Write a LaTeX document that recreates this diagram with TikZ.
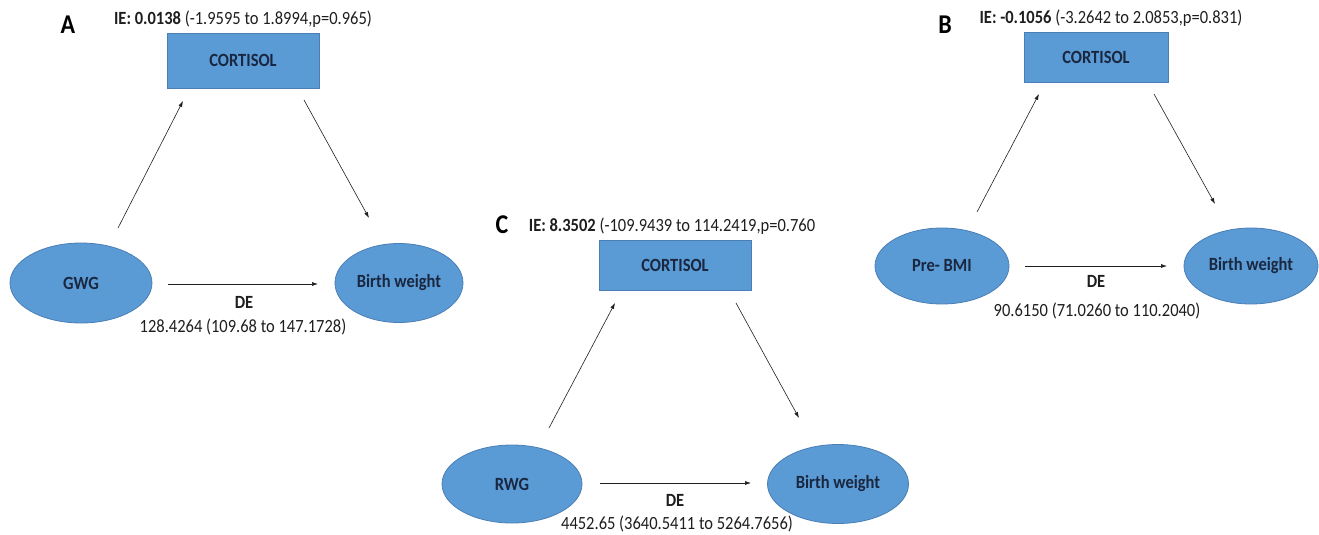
\documentclass[tikz,border=0pt]{standalone}
\usepackage{fontspec}
\setmainfont{Carlito}
\usetikzlibrary{shapes.geometric,arrows.meta}
\definecolor{boxblue}{HTML}{5B9BD5}
\definecolor{edgeblue}{HTML}{4A7EB5}
\definecolor{txt}{HTML}{1E1E1E}
\definecolor{shtxt}{HTML}{1A2740}
\newcommand\tl[1]{\scalebox{1}[1.13]{#1}}
\tikzset{
 oval/.style={ellipse, fill=boxblue, draw=edgeblue, line width=0.8pt, inner sep=0pt, font=\fontsize{16.5}{19}\selectfont\bfseries, text=shtxt},
 medbox/.style={rectangle, fill=boxblue, draw=edgeblue, line width=0.8pt, inner sep=0pt, font=\fontsize{16.5}{19}\selectfont\bfseries, text=shtxt},
 lbl/.style={font=\fontsize{16.5}{19}\selectfont, text=txt, inner sep=0pt},
 blbl/.style={lbl, font=\fontsize{16.5}{19}\selectfont\bfseries},
 panel/.style={font=\fontsize{24}{26}\selectfont\bfseries, text=black, inner sep=0pt},
 arr/.style={-{Latex[length=6pt,width=4pt]}, line width=0.6pt, draw=txt},
}
\begin{document}
\begin{tikzpicture}[x=1pt,y=-1pt]
\useasboundingbox (0,0) rectangle (1319,535);
% ---------- Panel A ----------
\node[panel] (pA) at (68,25) {\tl{A}};
\node[lbl] (ieA) at (243,19) {\tl{\textbf{IE: 0.0138} (-1.9595 to 1.8994,p=0.965)}};
\node[medbox, minimum width=152pt, minimum height=55pt] (cA) at (243,60.5) {\tl{CORTISOL}};
\node[oval, minimum width=142pt, minimum height=80pt] (xA) at (81,283) {\tl{GWG}};
\node[oval, minimum width=128pt, minimum height=79pt] (yA) at (399,283) {\tl{Birth weight}};
\coordinate (a1s) at (118,228); \coordinate (a1e) at (183,101);
\coordinate (a2s) at (304,100); \coordinate (a2e) at (369,218);
\coordinate (a3s) at (168,284); \coordinate (a3e) at (318,284);
\draw[arr] (a1s) -- (a1e);
\draw[arr] (a2s) -- (a2e);
\draw[arr] (a3s) -- (a3e);
\node[blbl] (deA) at (244,302) {\tl{DE}};
\node[lbl] (vA) at (243,327) {\tl{128.4264 (109.68 to 147.1728)}};
% ---------- Panel B ----------
\node[panel] (pB) at (945,25) {\tl{B}};
\node[lbl] (ieB) at (1111,18) {\tl{\textbf{IE: -0.1056} (-3.2642 to 2.0853,p=0.831)}};
\node[medbox, minimum width=144pt, minimum height=50pt] (cB) at (1096,57) {\tl{CORTISOL}};
\node[oval, minimum width=134pt, minimum height=76pt] (xB) at (942,266) {\tl{Pre- BMI}};
\node[oval, minimum width=134pt, minimum height=76pt] (yB) at (1251,266) {\tl{Birth weight}};
\coordinate (b1s) at (977,212); \coordinate (b1e) at (1039,94);
\coordinate (b2s) at (1154,94); \coordinate (b2e) at (1215,204);
\coordinate (b3s) at (1025,266); \coordinate (b3e) at (1167,266);
\draw[arr] (b1s) -- (b1e);
\draw[arr] (b2s) -- (b2e);
\draw[arr] (b3s) -- (b3e);
\node[blbl] (deB) at (1096,281) {\tl{DE}};
\node[lbl] (vB) at (1097,311) {\tl{90.6150 (71.0260 to 110.2040)}};
% ---------- Panel C ----------
\node[panel] (pC) at (502,225) {\tl{C}};
\node[lbl] (ieC) at (672,226) {\tl{\textbf{IE: 8.3502} (-109.9439 to 114.2419,p=0.760}};
\node[medbox, minimum width=152pt, minimum height=50pt] (cC) at (675,265) {\tl{CORTISOL}};
\node[oval, minimum width=140pt, minimum height=78pt] (xC) at (512,484) {\tl{RWG}};
\node[oval, minimum width=141pt, minimum height=79pt] (yC) at (838,484) {\tl{Birth weight}};
\coordinate (c1s) at (549,428); \coordinate (c1e) at (615,303);
\coordinate (c2s) at (736,303); \coordinate (c2e) at (799,418);
\coordinate (c3s) at (600,483); \coordinate (c3e) at (751,483);
\draw[arr] (c1s) -- (c1e);
\draw[arr] (c2s) -- (c2e);
\draw[arr] (c3s) -- (c3e);
\node[blbl] (deC) at (675,500) {\tl{DE}};
\node[lbl] (vC) at (677,524) {\tl{4452.65 (3640.5411 to 5264.7656)}};
\end{tikzpicture}
\end{document}
